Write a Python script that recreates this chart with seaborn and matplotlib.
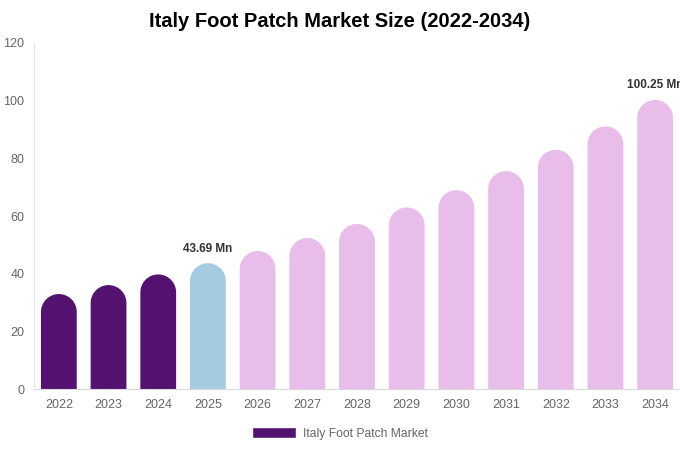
import numpy as np
import pandas as pd
import matplotlib
matplotlib.use("Agg")
import matplotlib.pyplot as plt
import seaborn as sns
from matplotlib.path import Path
from matplotlib.patches import PathPatch, Patch

years = ["2022", "2023", "2024", "2025", "2026", "2027", "2028",
         "2029", "2030", "2031", "2032", "2033", "2034"]
values = [33.0, 36.1, 39.8, 43.69, 47.9, 52.4, 57.3, 63.0, 69.0, 75.6, 83.0, 91.1, 100.25]
kinds = ["hist", "hist", "hist", "base", "fc", "fc", "fc", "fc", "fc", "fc", "fc", "fc", "fc"]
labels = {3: "43.69 Mn", 12: "100.25 Mn"}
series_name = "Italy Foot Patch Market"

colors = {"hist": "#541270", "base": "#a5cbe0", "fc": "#e8bde9"}

df = pd.DataFrame({"year": years, "value": values, "kind": kinds})

sns.set_style("white")
plt.rcParams["font.family"] = ["Liberation Sans", "DejaVu Sans"]

fig = plt.figure(figsize=(6.8, 4.5), dpi=100)
ax = fig.add_axes([0.05, 0.1349, 0.95, 0.7696])

sns.barplot(data=df, x="year", y="value", hue="kind", palette=colors,
            width=0.72, dodge=False, legend=False, ax=ax, saturation=1)

ax.set_xlim(-0.5, 12.5)
ax.set_ylim(0, 120)
ax.set_yticks(range(0, 121, 20))
ax.set_xlabel("")
ax.set_ylabel("")

# swap each bar for one with a round top
fig.canvas.draw()
px_per_unit = ax.transData.transform((0, 1))[1] - ax.transData.transform((0, 0))[1]
px_per_x = ax.transData.transform((1, 0))[0] - ax.transData.transform((0, 0))[0]
for bar in list(ax.patches):
    x0 = bar.get_x()
    w = bar.get_width()
    h = bar.get_height()
    if h <= 0:
        bar.remove()
        continue
    col = bar.get_facecolor()
    rx = w / 2
    ry = rx * px_per_x / px_per_unit
    t = np.linspace(np.pi, 0, 40)
    cx = x0 + rx
    arc = np.column_stack([cx + rx * np.cos(t), (h - ry) + ry * np.sin(t)])
    verts = np.vstack([[x0, 0], [x0, h - ry], arc, [x0 + w, 0], [x0, 0]])
    codes = [Path.MOVETO] + [Path.LINETO] * (len(verts) - 2) + [Path.CLOSEPOLY]
    bar.remove()
    ax.add_patch(PathPatch(Path(verts, codes), facecolor=col, edgecolor="none"))

for i, txt in labels.items():
    ax.text(i, values[i] + 3.0, txt, ha="center", va="bottom",
            fontsize=8.5, fontweight="bold", color="#333333")

for s in ["top", "right"]:
    ax.spines[s].set_visible(False)
ax.spines["left"].set_color("#e6e6e6")
ax.spines["bottom"].set_color("#d9d9d9")
ax.tick_params(axis="both", length=0, labelsize=9, colors="#666666", pad=7)

fig.suptitle("Italy Foot Patch Market Size (2022-2034)", fontsize=14.5,
             fontweight="bold", color="black", y=0.953, va="center")

fig.legend(handles=[Patch(facecolor=colors["hist"], label=series_name)],
           loc="center", bbox_to_anchor=(0.5, 0.037), frameon=False,
           fontsize=8.7, handlelength=3.6, handleheight=0.95, handletextpad=0.6,
           labelcolor="#666666")

fig.savefig("out.png", dpi=100)
